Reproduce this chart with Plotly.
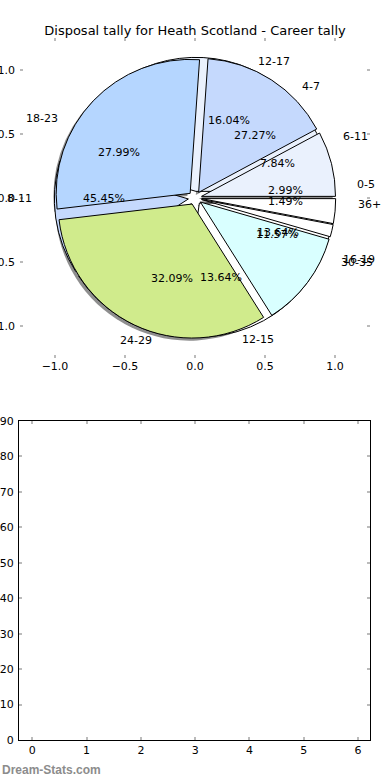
import numpy as np
import plotly.graph_objects as go

# ---- data ----
career_labels = ["0-5", "6-11", "12-17", "18-23", "24-29", "30-35", "36+"]
career_values = [8, 21, 43, 75, 86, 31, 4]
season_labels = ["4-7", "8-11", "12-15", "16-19"]
season_values = [6, 10, 3, 3]
slice_colors = ["#ffffff", "#eaf1fd", "#c5d9fd", "#b5d6ff", "#d0eb8c", "#d9ffff", "#ffffff"]
pie_ticks = [-1.0, -0.5, 0.0, 0.5, 1.0]
bar_xticks = [0, 1, 2, 3, 4, 5, 6]
bar_yticks = [0, 10, 20, 30, 40, 50, 60, 70, 80, 90]

W, H = 390, 780
FONT = "DejaVu Sans"
EXPLODE = 0.05

# pie geometry (pixels)
cx, cy, r = 195, 198, 134
half = r * (1 + EXPLODE)


def dom(dx=0.0, dy=0.0):
    return dict(x=[(cx + dx - half) / W, (cx + dx + half) / W],
                y=[1 - (cy + dy + half) / H, 1 - (cy + dy - half) / H])


fig = go.Figure()

pie_common = dict(sort=False, direction="counterclockwise", rotation=90,
                  textinfo="none", hoverinfo="skip", showlegend=False)

# shadow
fig.add_trace(go.Pie(values=career_values, labels=career_labels,
                     pull=[EXPLODE] * len(career_values),
                     marker=dict(colors=["rgba(50,50,50,0.55)"] * len(career_values),
                                 line=dict(width=0)),
                     domain=dom(-2.8, 2.6), **pie_common))
# season pie (drawn beneath)
fig.add_trace(go.Pie(values=season_values, labels=season_labels,
                     pull=[EXPLODE] * len(season_values),
                     marker=dict(colors=slice_colors[:len(season_values)],
                                 line=dict(color="black", width=1)),
                     domain=dom(), **pie_common))
# career pie
fig.add_trace(go.Pie(values=career_values, labels=career_labels,
                     pull=[EXPLODE] * len(career_values),
                     marker=dict(colors=slice_colors,
                                 line=dict(color="black", width=1)),
                     domain=dom(), **pie_common))

# empty traces for the pie's tick frame and for lower axes
fig.add_trace(go.Scatter(x=[], y=[], xaxis="x", yaxis="y", showlegend=False))
fig.add_trace(go.Scatter(x=[], y=[], xaxis="x2", yaxis="y2", showlegend=False))

annotations = []


def add_pie_text(labels, values):
    v = np.array(values, dtype=float)
    frac = v / v.sum()
    cum = np.cumsum(frac)
    mids = (cum - frac / 2) * 2 * np.pi
    for lab, f, th in zip(labels, frac, mids):
        c, s = np.cos(th), np.sin(th)
        lx, ly = (1.1 + EXPLODE) * c, (1.1 + EXPLODE) * s
        annotations.append(dict(x=lx, y=ly, xref="x", yref="y", text=lab,
                                showarrow=False, xanchor="left" if lx > 0 else "right",
                                yanchor="middle", font=dict(size=11, color="black", family=FONT)))
        px, py = (0.6 + EXPLODE) * c, (0.6 + EXPLODE) * s
        annotations.append(dict(x=px, y=py, xref="x", yref="y", text="%.2f%%" % (100 * f),
                                showarrow=False, xanchor="center", yanchor="middle",
                                font=dict(size=11, color="black", family=FONT)))


add_pie_text(season_labels, season_values)
add_pie_text(career_labels, career_values)

annotations.append(dict(x=0, y=1 - 770 / H, xref="paper", yref="paper", text="<b>Dream-Stats.com</b>",
                        showarrow=False, xanchor="left", yanchor="middle",
                        font=dict(size=12, color="#8c8c8c", family="Liberation Sans")))

tick_style = dict(ticks="inside", ticklen=3, tickwidth=1.5, tickcolor="#bbbbbb",
                  tickfont=dict(size=11, color="black", family=FONT),
                  showgrid=False, zeroline=False, automargin=False)

fig.update_layout(
    width=W, height=H,
    margin=dict(l=0, r=0, t=0, b=0),
    paper_bgcolor="white", plot_bgcolor="rgba(0,0,0,0)",
    showlegend=False,
    font=dict(family=FONT, color="black"),
    title=dict(text="Disposal tally for Heath Scotland - Career tally",
               x=0.5, xanchor="center", y=1 - 30 / H, yanchor="middle",
               font=dict(size=13, family=FONT, color="black")),
    xaxis=dict(domain=[20 / W, 370 / W], range=[-1.25, 1.25], anchor="y",
               tickvals=pie_ticks, tickformat=".1f", showline=False, mirror="ticks",
               **tick_style),
    yaxis=dict(domain=[1 - 358 / H, 1 - 38 / H], range=[-1.25, 1.25], anchor="x",
               tickvals=pie_ticks, tickformat=".1f", showline=False, mirror="ticks",
               ticklabelstandoff=4, **tick_style),
    xaxis2=dict(domain=[19 / W, 370 / W], range=[-0.245, 6.22], anchor="y2",
                tickvals=bar_xticks, showline=True, linecolor="black", linewidth=1,
                mirror="ticks", **tick_style),
    yaxis2=dict(domain=[1 - 740 / H, 1 - 421 / H], range=[0, 90], anchor="x2",
                tickvals=bar_yticks, showline=True, linecolor="black", linewidth=1,
                mirror="ticks", ticklabelstandoff=2, **tick_style),
    annotations=annotations,
)

fig.write_html("out.html", config={"displayModeBar": False},
               post_script="document.body.style.margin='0';document.body.style.overflow='hidden';")
